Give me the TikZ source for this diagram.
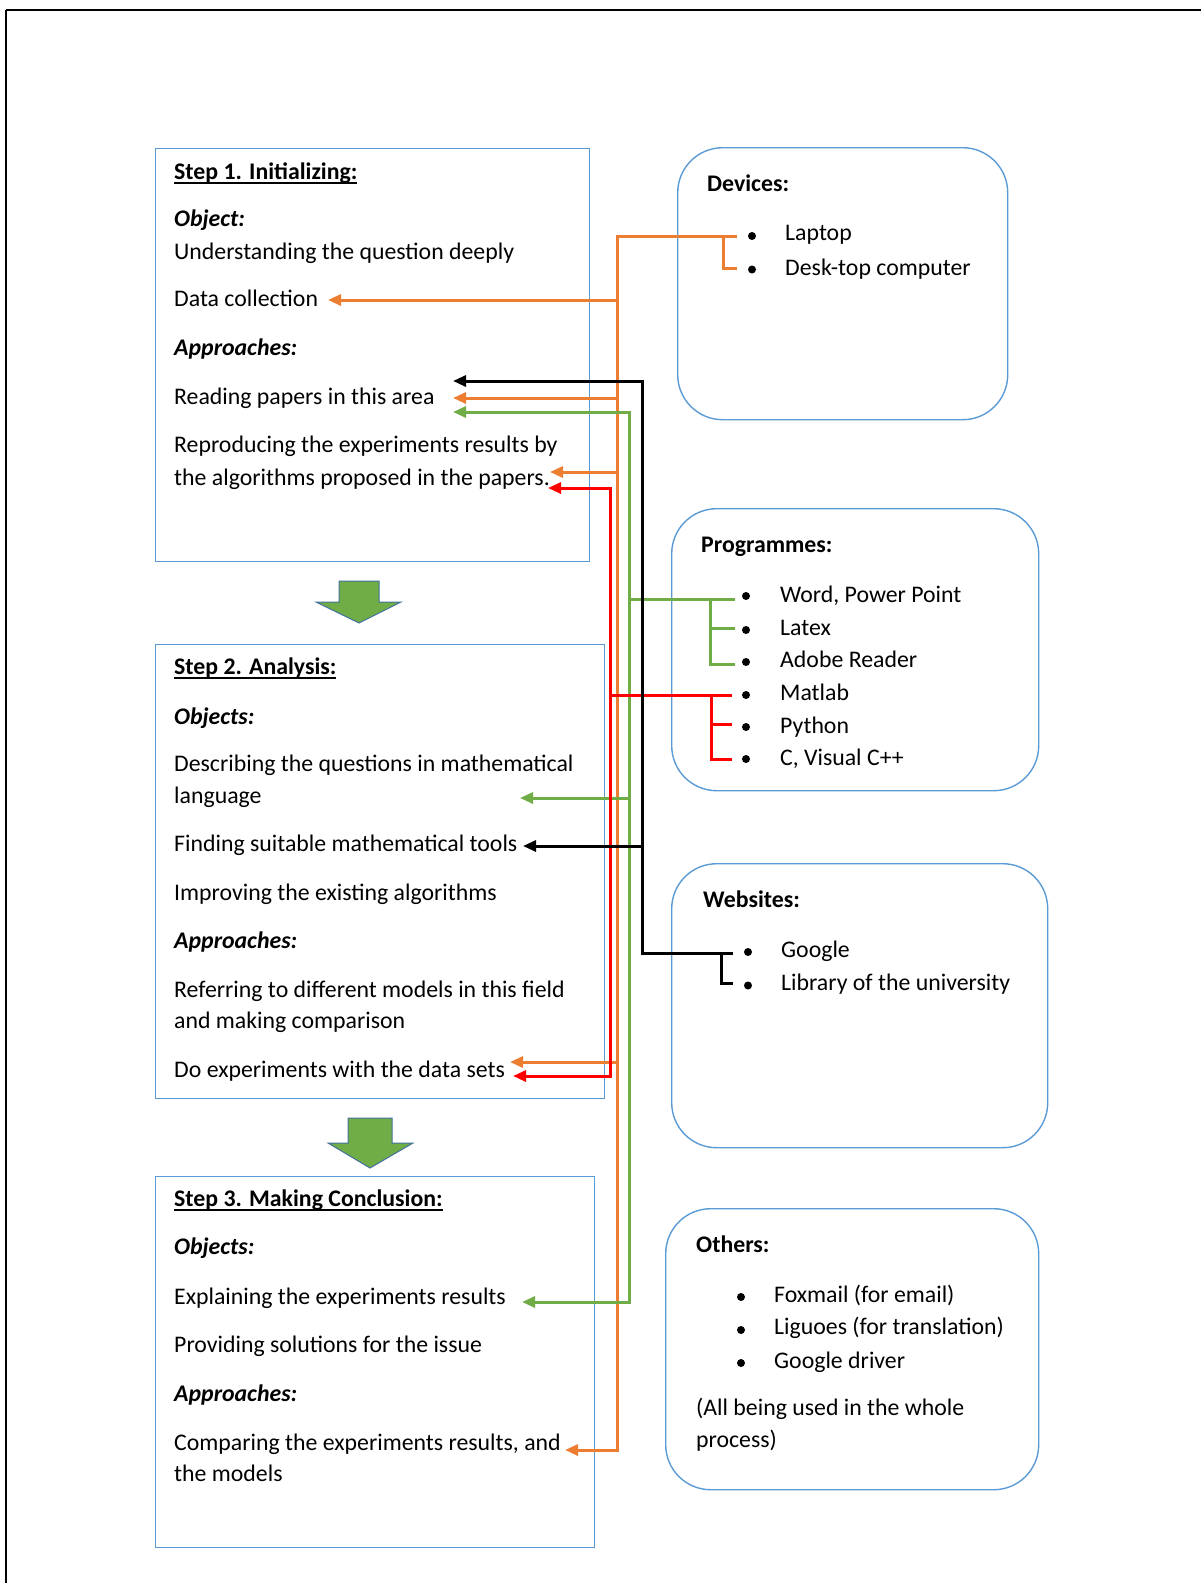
\documentclass[tikz,border=0pt]{standalone}
\usepackage{fontspec}
\setmainfont{Carlito}
\usetikzlibrary{arrows.meta}
\definecolor{boxblue}{HTML}{5B9BD5}
\definecolor{lnorange}{HTML}{ED7D31}
\definecolor{lngreen}{HTML}{70AD47}
\definecolor{lnred}{HTML}{FF0000}
\definecolor{arrowedge}{HTML}{41719C}
\newcommand{\stephead}[1]{\setbox0\hbox{\textbf{#1}}\rlap{\rule[-4.5pt]{\wd0}{1.8pt}}\box0}

\begin{document}
\begin{tikzpicture}[x=1pt,y=-1pt,
  stepbox/.style={draw=boxblue,line width=1.4pt,anchor=north west,inner sep=0pt},
  toolbox/.style={draw=boxblue,line width=1.4pt,rounded corners=45pt,anchor=north west,inner sep=0pt},
  txt/.style={anchor=base west,inner sep=0pt,font=\fontsize{23.8}{31}\selectfont},
  dot/.style={circle,fill=black,inner sep=0pt,minimum size=8pt},
  tie/.style={line width=3pt},
  route/.style={-{Triangle[length=13pt,width=11pt]},line width=3pt},
  twoway/.style={{Triangle[length=13pt,width=11pt]}-{Triangle[length=13pt,width=11pt]},line width=3pt},
  blockarrow/.style={fill=lngreen,draw=arrowedge,line width=1pt}
]
  \useasboundingbox (0,0) rectangle (1201,1583);
  \draw[line width=2pt] (6,10) -- (1201,10);
  \draw[line width=1.5pt] (6,10) -- (6,1583);

  % step boxes
  \node[stepbox,minimum width=434pt,minimum height=413pt] (step1) at (155,148) {};
  \node[stepbox,minimum width=449pt,minimum height=454pt] (step2) at (155,644) {};
  \node[stepbox,minimum width=439pt,minimum height=371pt] (step3) at (155,1176) {};
  \draw[blockarrow] (339,581) -- (379,581) -- (379,602) -- (401,602) -- (359,623) -- (316,602) -- (339,602) -- cycle;
  \draw[blockarrow] (348,1118) -- (392,1118) -- (392,1143) -- (413,1143) -- (370,1168) -- (328,1143) -- (348,1143) -- cycle;

  % tool boxes
  \node[toolbox,minimum width=330pt,minimum height=272pt] (devices) at (677,147) {};
  \node[toolbox,minimum width=367pt,minimum height=282pt] (progs) at (671,508) {};
  \node[toolbox,minimum width=376pt,minimum height=284pt] (webs) at (671,863) {};
  \node[toolbox,minimum width=373pt,minimum height=281pt] (others) at (665,1208) {};

  % step 1 texts
  \node[txt] (s1head) at (174,179) {\stephead{Step 1. Initializing:}};
  \node[txt] (s1obj) at (174,226.5) {\textbf{\textit{Object:}}};
  \node[txt] (s1under) at (174,259) {Understanding the question deeply};
  \node[txt] (s1data) at (174,306) {Data collection};
  \node[txt] (s1appr) at (174,355.5) {\textbf{\textit{Approaches:}}};
  \node[txt] (s1read) at (174,404) {Reading papers in this area};
  \node[txt] (s1repro) at (174,452.5) {Reproducing the experiments results by};
  \node[txt] (s1algo) at (174,485) {the algorithms proposed in the papers.};

  % step 2 texts
  \node[txt] (s2head) at (174,674.5) {\stephead{Step 2. Analysis:}};
  \node[txt] (s2obj) at (174,724) {\textbf{\textit{Objects:}}};
  \node[txt] (s2desc) at (174,771.5) {Describing the questions in mathematical};
  \node[txt] (s2lang) at (174,803.5) {language};
  \node[txt] (s2find) at (174,851) {Finding suitable mathematical tools};
  \node[txt] (s2impr) at (174,900.5) {Improving the existing algorithms};
  \node[txt] (s2appr) at (174,948) {\textbf{\textit{Approaches:}}};
  \node[txt] (s2refer) at (174,997.5) {Referring to different models in this field};
  \node[txt] (s2comp) at (174,1028.5) {and making comparison};
  \node[txt] (s2exp) at (174,1077) {Do experiments with the data sets};

  % step 3 texts
  \node[txt] (s3head) at (174,1206.5) {\stephead{Step 3. Making Conclusion:}};
  \node[txt] (s3obj) at (174,1254.5) {\textbf{\textit{Objects:}}};
  \node[txt] (s3expl) at (174,1304) {Explaining the experiments results};
  \node[txt] (s3sol) at (174,1352) {Providing solutions for the issue};
  \node[txt] (s3appr) at (174,1401) {\textbf{\textit{Approaches:}}};
  \node[txt] (s3cmp) at (174,1450) {Comparing the experiments results, and};
  \node[txt] (s3mod) at (174,1481) {the models};

  % tool texts
  \node[txt] (devhead) at (707,191) {\textbf{Devices:}};
  \node[dot] (lapdot) at (752,236) {};
  \node[dot] (deskdot) at (752,269.5) {};
  \node[txt] (laptop) at (785,240.5) {Laptop};
  \node[txt] (desktop) at (785,275) {Desk-top computer};

  \node[txt] (proghead) at (701,552.5) {\textbf{Programmes:}};
  \node[dot] (worddot) at (746,596) {};
  \node[dot] (latexdot) at (746,630) {};
  \node[dot] (adobedot) at (746,662) {};
  \node[dot] (matdot) at (746,695) {};
  \node[dot] (pydot) at (746,727) {};
  \node[dot] (cppdot) at (746,759) {};
  \node[txt] (word) at (780,602) {Word, Power Point};
  \node[txt] (latex) at (780,635) {Latex};
  \node[txt] (adobe) at (780,667.5) {Adobe Reader};
  \node[txt] (matlab) at (780,700.5) {Matlab};
  \node[txt] (python) at (780,733) {Python};
  \node[txt] (cpp) at (780,765.5) {C, Visual C++};

  \node[txt] (webhead) at (703,907.5) {\textbf{Websites:}};
  \node[dot] (googdot) at (748,952) {};
  \node[dot] (libdot) at (748,985.5) {};
  \node[txt] (google) at (781,957) {Google};
  \node[txt] (library) at (781,990.5) {Library of the university};

  \node[txt] (othhead) at (696,1252.5) {\textbf{Others:}};
  \node[dot] (foxdot) at (741,1297) {};
  \node[dot] (ligdot) at (741,1330) {};
  \node[dot] (drvdot) at (741,1363) {};
  \node[txt] (foxmail) at (774,1302) {Foxmail (for email)};
  \node[txt] (liguoes) at (774,1334.5) {Liguoes (for translation)};
  \node[txt] (gdrive) at (774,1368) {Google driver};
  \node[txt] (allused) at (696,1415) {(All being used in the whole};
  \node[txt] (process) at (696,1447.5) {process)};

  % connector points
  \coordinate (oIn) at (737,236);
  \coordinate (oBr) at (723,236);
  \coordinate (oOut) at (737,268);
  \coordinate (oTop) at (617,236);
  \coordinate (oBot) at (617,1450);
  \coordinate (dataTip) at (328,300);
  \coordinate (readTipO) at (453,398);
  \coordinate (reproTipO) at (550,472);
  \coordinate (expTipO) at (510,1062);
  \coordinate (cmpTip) at (565,1450);

  \coordinate (gIn) at (735,599);
  \coordinate (gBr) at (710,599);
  \coordinate (gOut) at (735,628);
  \coordinate (gOutB) at (735,664);
  \coordinate (gTop) at (629,412);
  \coordinate (gBot) at (629,1302);
  \coordinate (readTipG) at (453,412);
  \coordinate (langTip) at (520,798);
  \coordinate (explTip) at (522,1302);

  \coordinate (rIn) at (732,695);
  \coordinate (rBr) at (711,695);
  \coordinate (rOut) at (732,724);
  \coordinate (rOutB) at (732,759);
  \coordinate (rTop) at (610,488);
  \coordinate (rBot) at (610,1076);
  \coordinate (reproTipR) at (548,488);
  \coordinate (expTipR) at (513,1076);

  \coordinate (kIn) at (733,953);
  \coordinate (kBr) at (721,953);
  \coordinate (kOut) at (733,983);
  \coordinate (kTop) at (642,381);
  \coordinate (kBot) at (642,953);
  \coordinate (readTipK) at (453,381);
  \coordinate (findTip) at (523,846);

  % orange: devices
  \draw[tie,lnorange] (oBr) |- (oOut);
  \draw[route,lnorange] (oIn) -- (oTop) -- (oBot) -- (cmpTip);
  \path[route,lnorange]
    (oTop |- dataTip) edge (dataTip)
    (oTop |- readTipO) edge (readTipO)
    (oTop |- reproTipO) edge (reproTipO)
    (oTop |- expTipO) edge (expTipO);

  % green: text tools
  \draw[tie,lngreen] (gIn) -- (gIn -| gTop);
  \draw[tie,lngreen] (gBr) |- (gOutB);
  \draw[tie,lngreen] (gBr |- gOut) -- (gOut);
  \draw[twoway,lngreen] (readTipG) -- (gTop) -- (gBot) -- (explTip);
  \path[route,lngreen] (gTop |- langTip) edge (langTip);

  % red: coding tools
  \draw[tie,lnred] (rIn) -- (rIn -| rTop);
  \draw[tie,lnred] (rBr) |- (rOutB);
  \draw[tie,lnred] (rBr |- rOut) -- (rOut);
  \draw[twoway,lnred] (reproTipR) -- (rTop) -- (rBot) -- (expTipR);

  % black: websites
  \draw[tie] (kBr) |- (kOut);
  \draw[route] (kIn) -- (kBot) -- (kTop) -- (readTipK);
  \path[route] (kTop |- findTip) edge (findTip);
\end{tikzpicture}
\end{document}
